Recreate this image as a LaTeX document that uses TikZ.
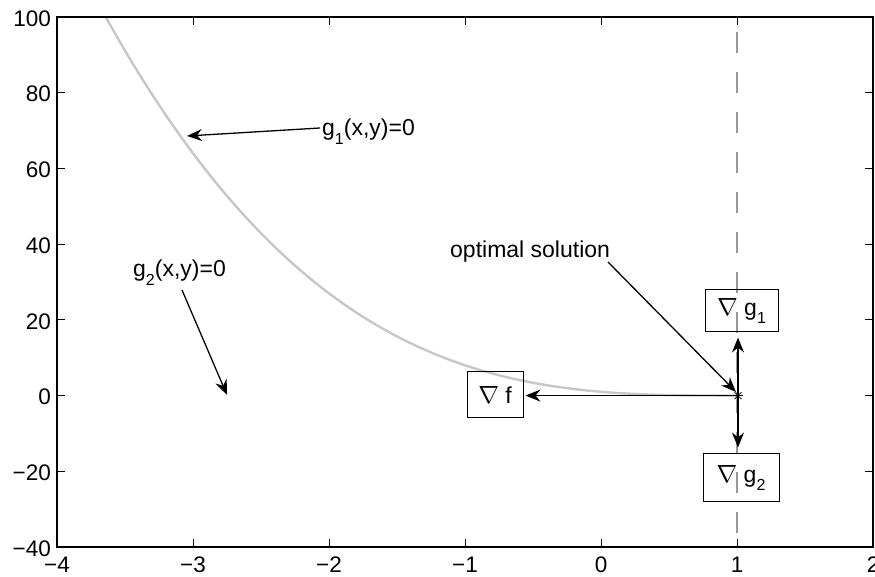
\documentclass[tikz,border=0pt]{standalone}
\usepackage{fontspec}
\setmainfont{Liberation Sans}
\usetikzlibrary{arrows.meta}
\newcommand{\sbs}[1]{\raisebox{-0.35em}{\fontsize{16}{16}\selectfont #1}}
\begin{document}
\begin{tikzpicture}[x=1pt,y=1pt,
  lbl/.style={font=\fontsize{22.5}{26}\selectfont, inner sep=0pt},
  ann/.style={font=\fontsize{23}{27}\selectfont, inner sep=0pt},
  tickline/.style={line width=1pt},
  axisbox/.style={line width=1.3pt},
  arr/.style={line width=1.3pt, -{Stealth[length=15pt,width=12pt,inset=5pt]}},
  gbox/.style={draw, line width=1pt, inner sep=0pt, font=\fontsize{23}{27}\selectfont},
  curvestyle/.style={line width=2.4pt, color=black!22},
  refline/.style={line width=1.2pt, color=black!40, dash pattern=on 21pt off 19pt, dash phase=25pt},
]
\useasboundingbox (0,0) rectangle (875,577);
% data curve g1: y=(1-x)^3
\begin{scope}[shift={(601,181.43)},x=136pt,y=3.7857pt]
  \draw[curvestyle] plot[domain=-3.642:1,samples=120,smooth] (\x,{(1-\x)^3});
\end{scope}
% dashed reference line x=1
\coordinate (dtop) at (737,560);
\coordinate (dbot) at (737,30);
\draw[refline] (dtop) -- (dbot);
% axes box
\draw[axisbox] (57,30) rectangle (873,560);
% x ticks and labels
\foreach \X/\t [count=\n] in {57/−4,193/−3,329/−2,465/−1,601/0,737/1,873/2} {
  \draw[tickline] (\X,30) -- (\X,38);
  \draw[tickline] (\X,560) -- (\X,552);
  \node[lbl,anchor=base] (xl\n) at (\X,4) {\t};
}
% y ticks and labels
\foreach \Y/\t [count=\n] in {30/−40,105.71/−20,181.43/0,257.14/20,332.86/40,408.57/60,484.29/80,560/100} {
  \draw[tickline] (57,\Y) -- (65,\Y);
  \draw[tickline] (873,\Y) -- (865,\Y);
  \node[lbl,anchor=east] (yl\n) at (51,\Y-1.5) {\t};
}
% annotations
\node[ann,anchor=base west] (g1lab) at (322,441) {g\sbs{1}(x,y)=0};
\node[ann,anchor=base west] (g2lab) at (133,300) {g\sbs{2}(x,y)=0};
\node[ann,anchor=base west] (optlab) at (450,319) {optimal solution};
\coordinate (g1start) at (320,449);
\coordinate (g1tip) at (187,441);
\coordinate (g2start) at (182,287);
\coordinate (g2tip) at (227,182);
\coordinate (optstart) at (608,315);
\coordinate (opttip) at (736,185);
\coordinate (opt) at (738,181.43);
\draw[arr] (g1start) -- (g1tip);
\draw[arr] (g2start) -- (g2tip);
\draw[arr] (optstart) -- (opttip);
% gradient boxes
\node[gbox,minimum width=56pt,minimum height=46pt] (fbox) at (495,182) {$\nabla$ f};
\node[gbox,minimum width=73pt,minimum height=42pt] (g1box) at (741.5,266) {$\nabla$ g\sbs{1}};
\node[gbox,minimum width=76pt,minimum height=48pt] (g2box) at (741,99) {$\nabla$ g\sbs{2}};
\draw[arr,shorten >=2pt] (opt) -- (opt -| fbox.east);
\draw[arr,shorten >=5pt] (opt) -- (opt |- g1box.south);
\draw[arr,shorten >=6pt] (opt) -- (opt |- g2box.north);
% asterisk marker
\draw[line width=0.7pt] ([xshift=-5pt]opt) -- ([xshift=5pt]opt);
\draw[line width=0.7pt] ([yshift=-5pt]opt) -- ([yshift=5pt]opt);
\draw[line width=0.7pt] ([shift={(-3.5pt,-3.5pt)}]opt) -- ([shift={(3.5pt,3.5pt)}]opt);
\draw[line width=0.7pt] ([shift={(-3.5pt,3.5pt)}]opt) -- ([shift={(3.5pt,-3.5pt)}]opt);
\end{tikzpicture}
\end{document}
